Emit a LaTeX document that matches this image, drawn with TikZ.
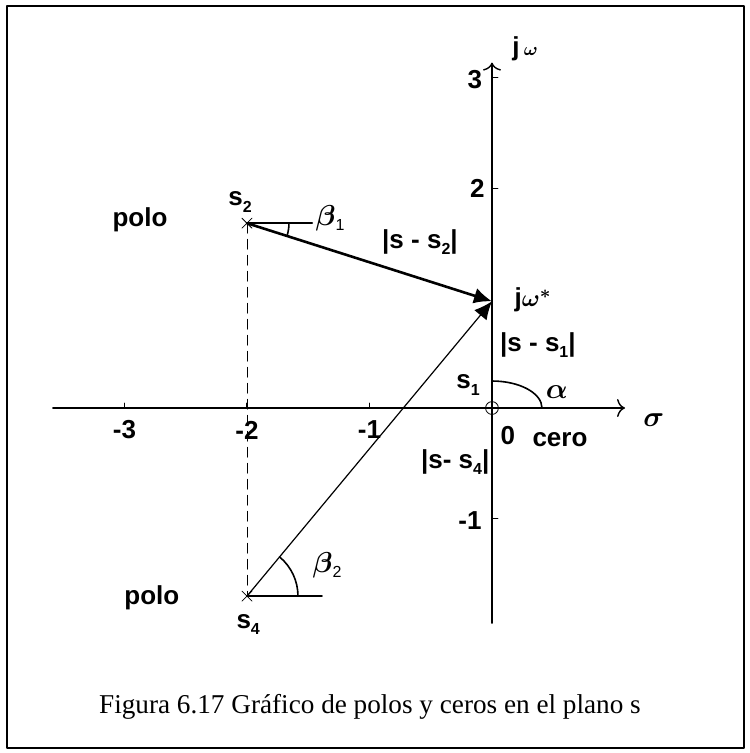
\documentclass[tikz,border=0pt]{standalone}
\usepackage{fontspec}
\setmainfont{Liberation Serif}
\setsansfont{Liberation Sans}
\usetikzlibrary{arrows.meta}
\newcommand{\lowidx}[1]{\raisebox{-0.45ex}{\footnotesize #1}}
\tikzset{
  lbl/.style={font=\sffamily\bfseries\fontsize{13}{15}\selectfont\boldmath, inner sep=1pt},
  grk/.style={font=\fontsize{13.5}{15}\selectfont\boldmath, inner sep=1pt},
  axis/.style={line width=0.7pt, -{To[length=4pt,width=9pt]}},
  tick/.style={line width=0.5pt},
  vec/.style={line width=1.3pt, -{Latex[length=9pt,width=8pt]}},
  pole/.style={line width=0.4pt}
}
\begin{document}
\begin{tikzpicture}[x=61.25pt,y=55pt,line cap=round,line join=round]
  \useasboundingbox (-4.016,-3.136) rectangle (2.098,3.709);
  \draw[line width=1pt] (-3.959,-3.091) rectangle (2.057,3.655);
  % points of the s plane
  \coordinate (s1) at (0,0);
  \coordinate (s2) at (-2,1.68);
  \coordinate (s4) at (-2,-1.71);
  \coordinate (jw) at (0,0.97);
  \coordinate (xa) at (-3.584,0);
  \coordinate (xb) at (1.086,0);
  \coordinate (ya) at (0,-1.955);
  \coordinate (yb) at (0,3.14);
  % axes
  \draw[axis] (xa) -- (xb);
  \draw[axis] (ya) -- (yb);
  \foreach \x in {-3,-2,-1} {
    \draw[tick] (\x,0) -- ++(0,2.5pt);
    \node[lbl] (tx\x) at (\x,-0.2) {-\the\numexpr-\x\relax};
  }
  \foreach \y in {-1,2,3} {\draw[tick] (0,\y) -- ++(3pt,0);}
  \node[lbl] (ty3) at (-0.14,2.99) {3};
  \node[lbl] (ty2) at (-0.12,2.0) {2};
  \node[lbl] (tym1) at (-0.18,-1.02) {-1};
  \node[lbl] (t0) at (0.13,-0.25) {0};
  \node[grk] (sig) at (1.32,-0.11) {$\sigma$};
  \node[lbl] (jwax) at (0.27,3.27) {j\,{\small$\omega$}};
  % vectors
  \draw[dashed, dash pattern=on 5pt off 3pt, line width=0.4pt] (s2) -- (s4);
  \draw[vec] (s2) -- (jw);
  \draw[line width=0.6pt, -{Latex[length=9pt,width=8pt]}] (s4) -- (jw);
  \draw[line width=1.3pt] (s1) -- (jw);
  % poles and zero
  \draw[pole] (s2) ++(-2.5pt,-2.5pt) -- ++(5pt,5pt) ++(-5pt,0) -- ++(5pt,-5pt);
  \draw[pole] (s4) ++(-2.5pt,-2.5pt) -- ++(5pt,5pt) ++(-5pt,0) -- ++(5pt,-5pt);
  \draw[line width=0.4pt] (s1) circle[radius=3.2pt];
  % angles
  \draw[line width=1pt] (s2) -- ++(0.531,0);
  \draw[line width=0.8pt] (s2) ++(21pt,0) arc[start angle=0, end angle=-17.7, radius=21pt];
  \draw[line width=1pt] (s4) -- ++(0.612,0);
  \draw[line width=0.8pt] (s4) ++(25.5pt,0) arc[start angle=0, end angle=50.3, radius=25.5pt];
  \draw[line width=0.8pt] (s1) ++(0,13.5pt) arc[start angle=90, end angle=0, x radius=25pt, y radius=13.5pt];
  % labels
  \node[lbl] (ls1) at (-0.196,0.21) {s\lowidx{1}};
  \node[lbl] (ls2) at (-2.057,1.873) {s\lowidx{2}};
  \node[lbl] (ls4) at (-1.99,-1.97) {s\lowidx{4}};
  \node[lbl] (polo1) at (-2.873,1.709) {polo};
  \node[lbl] (polo2) at (-2.776,-1.727) {polo};
  \node[lbl] (cero) at (0.555,-0.29) {cero};
  \node[grk] (alf) at (0.53,0.145) {$\alpha$};
  \node[grk] (b1) at (-1.322,1.727) {$\beta$\lowidx{\sffamily 1}};
  \node[grk] (b2) at (-1.347,-1.427) {$\beta$\lowidx{\sffamily 2}};
  \node[lbl] (ljw) at (0.335,0.98) {j$\omega^{\mathbf{*}}$};
  \node[lbl] (d1) at (0.375,0.57) {|s - s\lowidx{1}|};
  \node[lbl] (d2) at (-0.588,1.51) {|s - s\lowidx{2}|};
  \node[lbl] (d4) at (-0.30,-0.49) {|s- s\lowidx{4}|};
  \node[font=\fontsize{13.6}{16}\selectfont] (cap) at (-0.996,-2.718) {Figura 6.17 Gráfico de polos y ceros en el plano s};
\end{tikzpicture}
\end{document}
